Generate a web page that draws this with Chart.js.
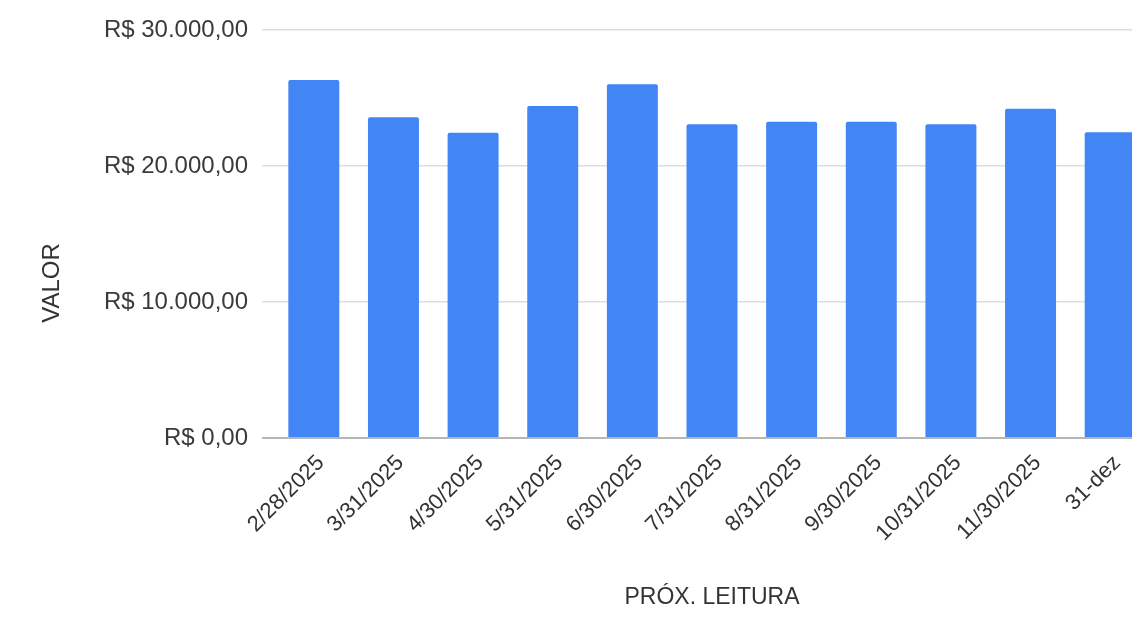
<!DOCTYPE html>
<html>
<head>
<meta charset="utf-8">
<title>Valor por próxima leitura</title>
<script src="https://cdn.jsdelivr.net/npm/chart.js@4.4.1/dist/chart.umd.min.js"></script>
<style>
  html, body {
    margin: 0;
    padding: 0;
    background: #ffffff;
    overflow: hidden;
  }
  #valorChart {
    display: block;
  }
</style>
</head>
<body>
<canvas id="valorChart" width="1150" height="618"></canvas>
<script>
const leituras = [
  "2/28/2025", "3/31/2025", "4/30/2025", "5/31/2025", "6/30/2025", "7/31/2025",
  "8/31/2025", "9/30/2025", "10/31/2025", "11/30/2025", "31-dez"
];
const valores = [
  26320, 23580, 22450, 24410, 26010, 23070,
  23260, 23260, 23070, 24210, 22480
];
const yTicks = [0, 10000, 20000, 30000];
const yTickLabels = ["R$ 0,00", "R$ 10.000,00", "R$ 20.000,00", "R$ 30.000,00"];

const FONT = "'Liberation Sans', Arial, sans-serif";

// y axis title sits a bit below the middle of the plot, so draw it by hand
const valorTitle = {
  id: "valorTitle",
  afterDraw: function (chart) {
    const c = chart.ctx;
    const area = chart.chartArea;
    c.save();
    c.translate(52, area.top + 253);
    c.rotate(-Math.PI / 2);
    c.fillStyle = "#333333";
    c.font = "24px " + FONT;
    c.textAlign = "center";
    c.textBaseline = "middle";
    c.fillText("VALOR", 0, 0);
    c.restore();
  },
};

const ctx = document.getElementById("valorChart").getContext("2d");

new Chart(ctx, {
  type: "bar",
  data: {
    labels: leituras,
    datasets: [
      {
        label: "VALOR",
        data: valores,
        backgroundColor: "#4285f4",
        borderRadius: 2,
        borderSkipped: "bottom",
        categoryPercentage: 1,
        barPercentage: 0.64,
      },
    ],
  },
  options: {
    responsive: false,
    animation: false,
    layout: {
      padding: { top: 30, left: 0, right: 0, bottom: 0 },
    },
    plugins: {
      legend: { display: false },
      tooltip: { enabled: false },
    },
    scales: {
      x: {
        grid: { display: false },
        border: { display: false },
        ticks: {
          autoSkip: false,
          minRotation: 45,
          maxRotation: 45,
          padding: 4,
          labelOffset: 7,
          color: "#333333",
          font: { family: FONT, size: 22 },
        },
        title: {
          display: true,
          text: "PRÓX. LEITURA",
          color: "#333333",
          font: { family: FONT, size: 23 },
          padding: { top: 0, bottom: 7 },
        },
        afterFit: function (scale) {
          scale.height = 180;
        },
      },
      y: {
        min: 0,
        max: 30000,
        afterBuildTicks: function (scale) {
          scale.ticks = yTicks.map(function (v) { return { value: v }; });
        },
        grid: {
          color: function (c) {
            return c.tick && c.tick.value === 0 ? "#b5b5b5" : "#dddddd";
          },
          lineWidth: function (c) {
            return c.tick && c.tick.value === 0 ? 2 : 1.5;
          },
          tickLength: 12,
        },
        border: { display: false },
        ticks: {
          padding: 14,
          color: "#3a3a3a",
          font: { family: FONT, size: 24 },
          callback: function (value, index) {
            return yTickLabels[index];
          },
        },
        title: { display: false },
        afterFit: function (scale) {
          scale.width = 274;
        },
      },
    },
  },
  plugins: [valorTitle],
});
</script>
</body>
</html>
